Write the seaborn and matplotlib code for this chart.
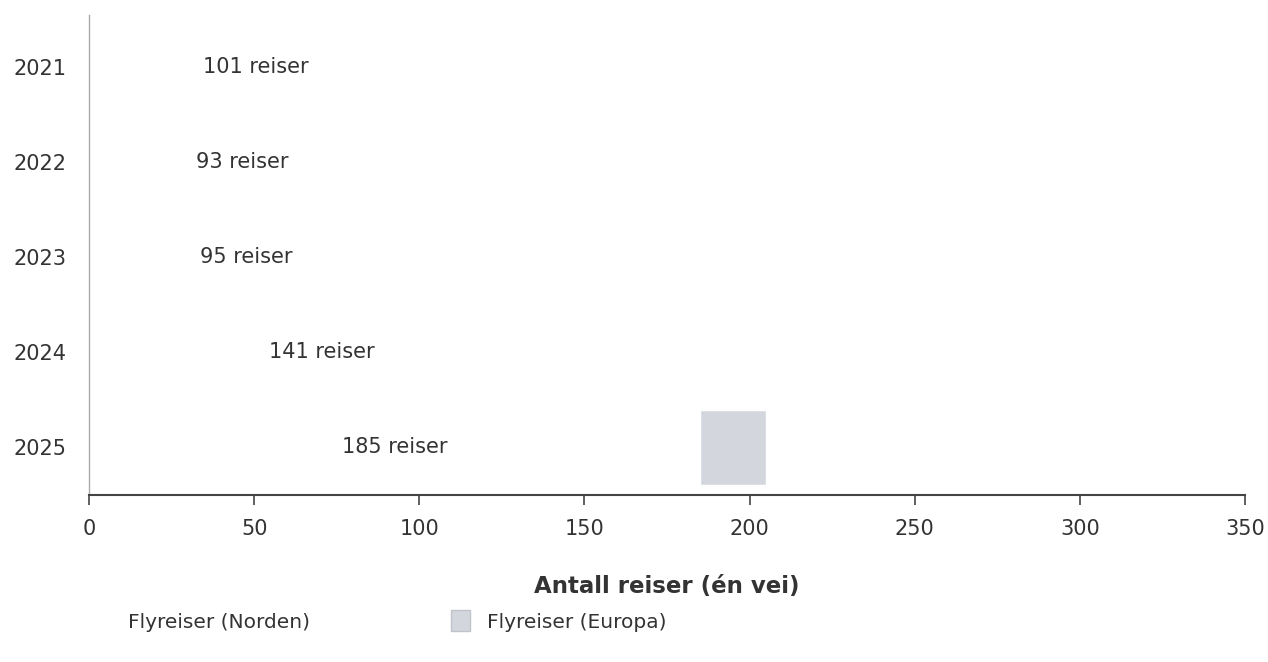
import matplotlib as mpl

mpl.use('Agg')
import pandas as pd
import matplotlib.pyplot as plt
from matplotlib.patches import Patch
import seaborn as sns

sns.set(style='white')
plt.rcParams['font.family'] = ['DejaVu Sans']

#### Data ####
years = ['2021', '2022', '2023', '2024', '2025']
norden = [101, 93, 95, 141, 185]
europa = [0, 0, 0, 0, 20]
xticks = [0, 50, 100, 150, 200, 250, 300, 350]
########################

df = pd.DataFrame({'year': years, 'norden': norden, 'europa': europa})
df['total'] = df['norden'] + df['europa']

europa_color = '#d3d6dd'
text_color = '#333333'
fs = 15

fig = plt.figure(figsize=(12.68, 6.62), dpi=100)
ax = fig.add_axes([0.0702, 0.2523, 0.9117, 0.7247])

# stacked trick: total first, Norden (white) on top
sns.barplot(data=df, x='total', y='year', orient='h', color=europa_color,
            saturation=1, width=0.79, ax=ax)
sns.barplot(data=df, x='norden', y='year', orient='h', color='white',
            saturation=1, width=0.79, ax=ax)

for i, v in enumerate(df['norden']):
    ax.text(v / 2, i, f'{v} reiser', ha='center', va='center',
            fontsize=fs, color=text_color)

ax.set_xlim(0, 350)
ax.set_ylim(4.5, -0.55)
ax.set_xticks(xticks)
ax.set_xticklabels([str(t) for t in xticks], fontsize=fs, color=text_color)
ax.tick_params(axis='x', bottom=True, direction='out', length=7, width=1.2,
               color='#444444', pad=10)
ax.tick_params(axis='y', left=False, labelsize=fs, labelcolor=text_color,
               pad=10)

ax.set_xlabel('Antall reiser (én vei)', fontsize=16.5, fontweight='bold',
              color=text_color, labelpad=26)
ax.set_ylabel('')

ax.spines['right'].set_color('none')
ax.spines['top'].set_color('none')
ax.spines['bottom'].set_color('#444444')
ax.spines['bottom'].set_linewidth(1.5)
ax.spines['left'].set_color('#aaaaaa')
ax.spines['left'].set_linewidth(1.0)

handles = [Patch(facecolor='white', edgecolor='white', label='Flyreiser (Norden)'),
           Patch(facecolor=europa_color, edgecolor='#c0c3ca', label='Flyreiser (Europa)')]
fig.legend(handles=handles, loc='center left', bbox_to_anchor=(0.058, 0.062),
           ncol=2, frameon=False, fontsize=14.5, columnspacing=7.0,
           handlelength=0.95, handleheight=1.2, handletextpad=0.85,
           labelcolor=text_color)

plt.savefig('out.png', dpi=100)
